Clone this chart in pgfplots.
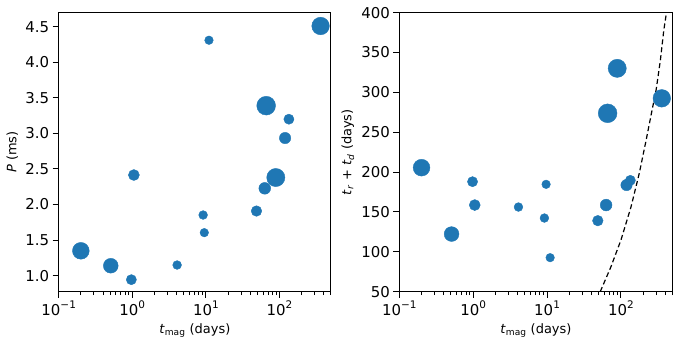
\documentclass[border=0pt]{standalone}
\usepackage{fontspec}
\setmainfont{DejaVu Sans}
\usepackage{pgfplots}
\usepackage{pgfplotstable}
\pgfplotsset{compat=1.18}
\definecolor{tabblue}{HTML}{1F77B4}
\newcommand{\tsup}[1]{\raisebox{0.42em}{\fontsize{10.5}{12}\selectfont #1}}

\pgfplotstableread{
x y r
0.2 1.35 8.4
0.51 1.14 7.4
0.97 0.944 5.1
1.05 2.415 5.5
4.06 1.15 4.4
9.16 1.853 4.4
9.5 1.605 4.3
11.0 4.31 4.3
48.6 1.909 5.3
63 2.228 5.9
65.8 3.39 9.4
89 2.38 9.1
119 2.935 5.7
134 3.20 5.1
361 4.51 8.8
}\leftdata

\pgfplotstableread{
x y r
0.2 205.6 8.4
0.51 122.3 7.4
0.98 188 5.1
1.05 158.7 5.5
4.1 156.2 4.4
9.7 184.7 4.3
9.2 142.4 4.4
11.0 92.7 4.3
48.6 139.1 5.3
63 158.7 5.9
66 273.8 9.4
89 330.2 9.1
119 183.8 5.7
134 189.7 5.1
357 292.6 8.8
}\rightdata

\pgfplotstableread{
x y
52.4 50
73 81
100 114.8
137 156.6
177 198.5
219 240
264 278
299 303
342 340.6
380 378
413 400
}\curvedata

\pgfplotsset{
  myax/.style={
    scale only axis,
    xmin=0.1, xmax=500,
    axis line style={line width=1bp},
    every tick/.style={black, line width=1bp},
    tick align=outside,
    xtick pos=left, ytick pos=left,
    major tick length=6bp, minor tick length=3.5bp,
    xtick={0.1,1,10,100},
    minor xtick={0.2,0.3,0.4,0.5,0.6,0.7,0.8,0.9,2,3,4,5,6,7,8,9,20,30,40,50,60,70,80,90,200,300,400,500},
    xticklabels={10\tsup{−1},10\tsup{0},10\tsup{1},10\tsup{2}},
    tick label style={font=\fontsize{15}{18}\selectfont},
    label style={font=\fontsize{13}{16}\selectfont},
    /pgf/number format/assume math mode=true,
    xlabel={\textit{t}\textsubscript{mag} (days)},
    xlabel style={at={(axis description cs:0.5,-0.149)}, anchor=base},
  },
  myscatter/.style={
    scatter, only marks, mark=*,
    point meta=explicit,
    scatter/use mapped color={draw=tabblue, fill=tabblue},
    visualization depends on={\thisrow{r}\as\rad},
    scatter/@pre marker code/.append style={/tikz/mark size=\rad bp},
  },
}

\begin{document}
\begin{tikzpicture}
\path[use as bounding box] (0,0) rectangle (679bp,344bp);

\begin{semilogxaxis}[myax,
  at={(58.7bp,52.3bp)}, anchor=south west,
  width=272.3bp, height=279bp,
  ymin=0.775, ymax=4.697,
  ytick={1,1.5,2,2.5,3,3.5,4,4.5},
  yticklabel style={/pgf/number format/fixed, /pgf/number format/fixed zerofill, /pgf/number format/precision=1},
  ylabel={\textit{P} (ms)},
  ylabel style={at={(axis description cs:-0.155,0.5)}, anchor=base},
]
\addplot[myscatter] table[x=x, y=y, meta=r] {\leftdata};
\end{semilogxaxis}

\begin{semilogxaxis}[myax,
  at={(399.3bp,52.3bp)}, anchor=south west,
  width=273.3bp, height=279bp,
  ymin=50, ymax=400,
  ytick={50,100,150,200,250,300,350,400},
  ylabel={\textit{t}\textsubscript{\textit{r}} + \textit{t}\textsubscript{\textit{d}} (days)},
  ylabel style={at={(axis description cs:-0.175,0.5)}, anchor=base},
]
\addplot[myscatter] table[x=x, y=y, meta=r] {\rightdata};
\addplot[black, line width=1.2bp, dash pattern=on 5bp off 3bp] table[x=x, y=y] {\curvedata};
\end{semilogxaxis}
\end{tikzpicture}
\end{document}
